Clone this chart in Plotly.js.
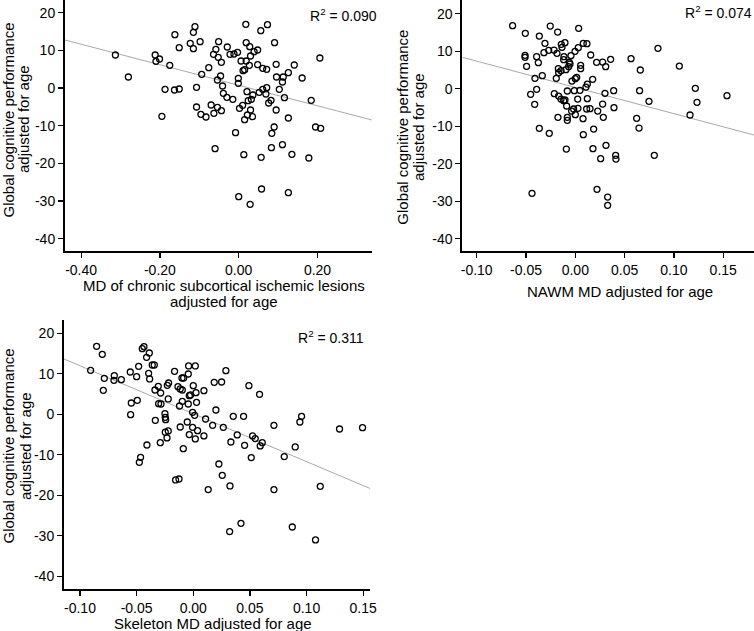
<!DOCTYPE html>
<html>
<head>
<meta charset="utf-8">
<script src="https://cdn.plot.ly/plotly-3.0.1.min.js"></script>
<style>html,body{margin:0;padding:0;background:#fff;}#chart{width:754px;height:631px;}</style>
</head>
<body>
<div id="chart"></div>
<script>
// ---------- Data ----------
// Panel 1: MD of chronic subcortical ischemic lesions vs global cognition
const lesionMD = [-0.313,-0.280,-0.212,-0.210,-0.201,-0.195,-0.187,-0.175,-0.162,-0.163,-0.151,-0.151,-0.123,-0.115,-0.111,-0.115,-0.098,-0.107,-0.107,-0.096,-0.094,-0.083,-0.076,-0.070,-0.063,-0.060,-0.064,-0.058,-0.051,-0.052,-0.044,-0.046,-0.054,-0.054,-0.044,-0.041,-0.039,-0.030,-0.029,-0.022,-0.015,-0.008,-0.012,-0.003,-0.001,-0.001,0.000,0.002,0.010,0.006,0.011,0.013,0.018,0.019,0.019,0.021,0.015,0.015,0.022,0.024,0.028,0.030,0.029,0.030,0.027,0.032,0.035,0.036,0.039,0.048,0.048,0.052,0.056,0.057,0.058,0.061,0.061,0.071,0.069,0.071,0.073,0.076,0.082,0.084,0.083,0.090,0.091,0.095,0.096,0.095,0.103,0.111,0.113,0.111,0.116,0.126,0.126,0.126,0.135,0.141,0.161,0.178,0.184,0.195,0.206,0.208];
const lesionCog = [8.76,2.92,8.76,7.08,7.70,-7.52,-0.35,6.02,14.16,-0.53,-0.27,10.71,11.86,14.78,16.28,10.44,12.30,0.18,-5.04,-6.99,3.63,-7.70,5.40,-4.51,-6.73,-16.11,8.94,10.27,12.30,8.14,6.81,3.19,2.12,-5.13,-6.02,0.53,-1.42,-2.48,10.88,8.94,-3.01,-11.86,9.03,9.47,2.57,1.24,-28.85,-5.40,-4.60,7.17,4.60,-17.70,16.90,12.04,7.17,-0.97,4.87,-8.41,-7.17,-3.36,10.97,8.50,-30.88,-5.84,6.02,-3.01,-7.61,-1.86,9.65,10.09,6.19,-1.15,15.22,-18.41,-26.81,5.22,-0.35,4.96,-1.59,0.09,16.81,-3.98,-3.27,-12.04,-15.84,-10.35,12.04,6.28,2.92,-5.84,-0.35,-15.04,2.92,1.59,-2.57,4.07,-7.96,-27.79,-17.61,6.11,2.65,-18.58,-3.27,-10.35,7.96,-10.71];
const fit1X = [-0.441, 0.338];
const fit1Y = [12.74, -8.49];

// Panel 2: NAWM MD vs global cognition
const nawmMD = [-0.0636,-0.0507,-0.0510,-0.0510,-0.0494,-0.0392,-0.0365,-0.0375,-0.0308,-0.0318,-0.0335,-0.0409,-0.0392,-0.0453,-0.0412,-0.0365,-0.0439,-0.0264,-0.0270,-0.0254,-0.0216,-0.0179,-0.0186,-0.0172,-0.0193,-0.0213,-0.0169,-0.0176,-0.0142,-0.0169,-0.0145,-0.0115,-0.0105,-0.0135,-0.0118,-0.0095,-0.0145,-0.0118,-0.0105,-0.0088,-0.0081,-0.0081,-0.0081,-0.0091,-0.0061,-0.0054,-0.0068,-0.0044,-0.0034,0.0000,0.0014,-0.0003,-0.0010,-0.0037,-0.0017,0.0000,0.0024,0.0027,0.0034,0.0030,0.0047,0.0054,0.0054,0.0078,0.0081,0.0081,0.0118,0.0108,0.0122,0.0122,0.0115,0.0149,0.0156,0.0176,0.0186,0.0179,0.0216,0.0220,0.0227,0.0257,0.0277,0.0277,0.0284,0.0308,0.0301,0.0311,0.0328,0.0328,0.0358,0.0389,0.0392,0.0409,0.0412,0.0565,0.0622,0.0646,0.0652,0.0659,0.0747,0.0801,0.0838,0.1055,0.1163,0.1217,0.1234,0.1538];
const nawmCog = [16.80,14.76,8.89,8.36,5.96,8.53,14.04,6.93,12.09,9.60,3.47,2.76,-0.18,-1.51,-4.18,-10.58,-27.91,-11.91,10.22,16.71,10.31,15.11,9.42,5.33,2.76,-1.33,-1.96,-7.64,11.82,4.27,4.80,8.53,12.27,11.02,7.73,5.07,-2.76,-3.20,-3.02,-4.62,-0.62,-7.64,-8.44,-16.09,7.02,6.58,5.87,8.80,2.04,2.67,3.02,9.96,-0.53,-5.96,-5.42,-6.93,-2.76,-5.24,16.09,10.93,-0.44,6.22,5.33,-8.00,-12.27,12.09,12.00,0.44,1.24,-2.67,-5.42,-5.33,8.98,2.49,-10.76,-16.00,7.02,-26.84,-5.96,-18.67,7.11,-4.09,-7.64,5.87,-1.24,-15.11,-28.89,-31.11,7.82,-0.53,-5.07,-17.78,-18.76,8.00,-7.91,-10.49,-0.53,4.98,-3.38,-17.78,10.76,6.04,-7.02,0.09,-3.64,-1.87];
const fit2X = [-0.1146, 0.1812];
const fit2Y = [8.37, -12.35];

// Panel 3: Skeleton MD vs global cognition
const skelMD = [-0.0906,-0.0853,-0.0803,-0.0785,-0.0794,-0.0697,-0.0700,-0.0635,-0.0556,-0.0547,-0.0553,-0.0500,-0.0494,-0.0482,-0.0476,-0.0465,-0.0450,-0.0435,-0.0412,-0.0388,-0.0394,-0.0385,-0.0409,-0.0362,-0.0344,-0.0338,-0.0335,-0.0309,-0.0306,-0.0285,-0.0288,-0.0291,-0.0250,-0.0247,-0.0244,-0.0229,-0.0218,-0.0221,-0.0247,-0.0221,-0.0232,-0.0165,-0.0156,-0.0126,-0.0135,-0.0121,-0.0115,-0.0100,-0.0085,-0.0115,-0.0097,-0.0088,-0.0097,-0.0053,-0.0041,-0.0044,-0.0035,-0.0024,-0.0044,-0.0035,-0.0006,0.0000,-0.0006,0.0018,0.0024,0.0029,0.0012,0.0018,0.0038,0.0094,0.0094,0.0109,0.0132,0.0171,0.0185,0.0200,0.0226,0.0250,0.0256,0.0265,0.0288,0.0321,0.0324,0.0332,0.0353,0.0388,0.0421,0.0444,0.0453,0.0491,0.0512,0.0524,0.0547,0.0585,0.0591,0.0609,0.0712,0.0712,0.0803,0.0874,0.0900,0.0941,0.0956,0.1079,0.1121,0.1291,0.1494];
const skelCog = [10.86,16.78,14.80,8.88,5.92,9.54,8.39,8.55,10.44,2.79,-0.09,9.29,3.45,11.84,-11.86,-10.62,16.20,16.70,14.06,15.13,10.12,8.72,-7.58,12.17,12.17,6.00,-1.49,6.90,2.63,2.54,5.26,-7.00,0.16,-0.75,-1.33,7.15,7.73,3.78,-4.44,-4.12,-5.84,10.61,-16.22,-15.98,6.82,2.05,-3.14,8.96,8.96,6.25,6.00,-8.48,3.20,-1.90,11.93,9.95,4.60,4.77,2.54,-5.02,0.49,7.07,-3.22,11.93,5.34,2.95,-0.26,-6.09,-4.04,5.84,-5.35,-1.16,-18.60,-2.72,7.89,1.06,-12.27,7.97,-15.07,-3.22,10.77,-28.97,-17.70,-6.84,-0.50,-5.10,-26.92,-0.50,-7.66,7.07,-10.70,-5.35,-6.01,4.93,-7.82,-7.00,-2.72,-18.60,-10.45,-27.83,-8.07,-1.90,-0.50,-31.03,-17.79,-3.63,-3.30];
const fit3X = [-0.1141, 0.156];
const fit3Y = [13.65, -18.32];

// Ticks and labels
const yTickVals = [-40,-30,-20,-10,0,10,20];
const yTickText = ['-40','-30','-20','-10','0','10','20'];
const x1TickVals = [-0.4,-0.2,0,0.2];
const x1TickText = ['-0.40','-0.20','0.00','0.20'];
const x23TickVals = [-0.1,-0.05,0,0.05,0.1,0.15];
const x23TickText = ['-0.10','-0.05','0.00','0.05','0.10','0.15'];
const r2Labels = ['R<sup>2</sup> = 0.090','R<sup>2</sup> = 0.074','R<sup>2</sup> = 0.311'];
const yTitleLines = ['Global cognitive performance','adjusted for age'];
const x1TitleLines = ['MD of chronic subcortical ischemic lesions','adjusted for age'];
const x2Title = 'NAWM MD adjusted for age';
const x3Title = 'Skeleton MD adjusted for age';

// ---------- Layout helpers ----------
const W = 754, H = 631;
const px = v => v / W;
const py = v => 1 - v / H;
const FONT = 'Liberation Sans, Arial, Helvetica, sans-serif';

function scatter(x, y, xa, ya) {
  return {x: x, y: y, xaxis: xa, yaxis: ya, type: 'scatter', mode: 'markers',
    marker: {symbol: 'circle-open', size: 6, color: '#000', line: {color: '#000', width: 1.3}},
    hoverinfo: 'x+y', showlegend: false};
}
function fitLine(x, y, xa, ya) {
  return {x: x, y: y, xaxis: xa, yaxis: ya, type: 'scatter', mode: 'lines',
    line: {color: '#a8a8a8', width: 1}, hoverinfo: 'skip', showlegend: false};
}
function xAxis(dom, range, tv, tt, anchor) {
  return {domain: dom, range: range, anchor: anchor, tickvals: tv, ticktext: tt,
    showline: true, linecolor: '#000', linewidth: 2, ticks: 'outside', ticklen: 5,
    tickwidth: 1.2, tickcolor: '#000', showgrid: false, zeroline: false,
    tickfont: {family: FONT, size: 14, color: '#000'}, fixedrange: true};
}
function yAxis(dom, range, anchor) {
  return {domain: dom, range: range, anchor: anchor, tickvals: yTickVals, ticktext: yTickText,
    showline: true, linecolor: '#000', linewidth: 2, ticks: 'outside', ticklen: 5,
    tickwidth: 1.2, tickcolor: '#000', showgrid: false, zeroline: false,
    tickfont: {family: FONT, size: 14, color: '#000'}, fixedrange: true};
}
function ann(text, x, y, opts) {
  return Object.assign({text: text, xref: 'paper', yref: 'paper', x: px(x), y: py(y),
    xanchor: 'center', yanchor: 'middle', showarrow: false, borderpad: 0,
    font: {family: FONT, size: 15, color: '#000'}}, opts || {});
}

const data = [
  fitLine(fit1X, fit1Y, 'x', 'y'),
  scatter(lesionMD, lesionCog, 'x', 'y'),
  fitLine(fit2X, fit2Y, 'x2', 'y2'),
  scatter(nawmMD, nawmCog, 'x2', 'y2'),
  fitLine(fit3X, fit3Y, 'x3', 'y3'),
  scatter(skelMD, skelCog, 'x3', 'y3')
];

const layout = {
  width: W, height: H,
  margin: {l: 0, r: 0, t: 0, b: 0},
  paper_bgcolor: '#fff', plot_bgcolor: '#fff',
  showlegend: false,
  font: {family: FONT, color: '#000'},
  xaxis: xAxis([px(65), px(372)], [-0.4409, 0.3383], x1TickVals, x1TickText, 'y'),
  yaxis: yAxis([py(251), 1], [-43.27, 23.36], 'x'),
  xaxis2: xAxis([px(462.3), 1], [-0.1146, 0.1812], x23TickVals, x23TickText, 'y2'),
  yaxis2: yAxis([py(251), 1], [-43.28, 23.65], 'x2'),
  xaxis3: xAxis([px(64), px(370)], [-0.1141, 0.156], x23TickVals, x23TickText, 'y3'),
  yaxis3: yAxis([py(589), py(320)], [-43.14, 23.28], 'x3'),
  annotations: [
    ann(r2Labels[0], 378, 15, {xanchor: 'right', font: {family: FONT, size: 14, color: '#000'}}),
    ann(r2Labels[1], 753, 12, {xanchor: 'right', font: {family: FONT, size: 14, color: '#000'}}),
    ann(r2Labels[2], 365, 337, {xanchor: 'right', font: {family: FONT, size: 14, color: '#000'}}),
    ann(yTitleLines[0], 7.5, 120, {textangle: -90}),
    ann(yTitleLines[1], 24, 119, {textangle: -90}),
    ann(yTitleLines[0], 401.7, 127, {textangle: -90}),
    ann(yTitleLines[1], 418, 127, {textangle: -90}),
    ann(yTitleLines[0], 7.5, 446, {textangle: -90}),
    ann(yTitleLines[1], 25, 446, {textangle: -90}),
    ann(x1TitleLines[0], 224, 285.5),
    ann(x1TitleLines[1], 224, 302),
    ann(x2Title, 620, 292),
    ann(x3Title, 213, 623)
  ]
};

Plotly.newPlot('chart', data, layout, {displayModeBar: false, staticPlot: true});
</script>
</body>
</html>
